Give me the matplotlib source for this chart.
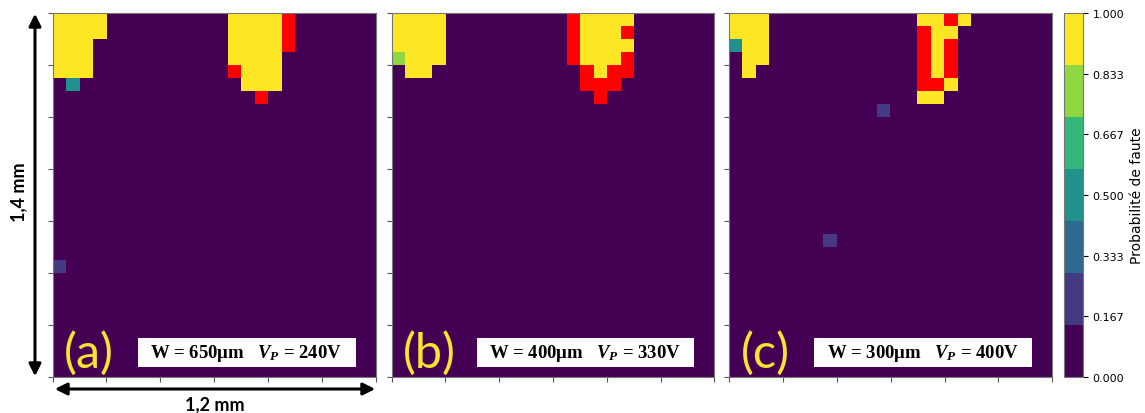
import numpy as np
import matplotlib
matplotlib.use("Agg")
import matplotlib.pyplot as plt
from matplotlib.colors import ListedColormap
from matplotlib.patches import Rectangle, FancyArrowPatch

# grid of the heat maps: 28 rows (1,4 mm) x 24 columns (1,2 mm)
n_rows, n_cols = 28, 24

# probability cells: (row, first col, last col, value)
prob_a = [(0, 0, 3, 1.0), (1, 0, 3, 1.0), (2, 0, 2, 1.0), (3, 0, 2, 1.0), (4, 0, 2, 1.0),
          (5, 1, 1, 0.5), (19, 0, 0, 1/6),
          (0, 13, 16, 1.0), (1, 13, 16, 1.0), (2, 13, 16, 1.0), (3, 13, 16, 1.0),
          (4, 14, 16, 1.0), (5, 14, 16, 1.0)]
red_a = [(0, 17, 17), (1, 17, 17), (2, 17, 17), (4, 13, 13), (6, 15, 15)]

prob_b = [(0, 0, 3, 1.0), (1, 0, 3, 1.0), (2, 0, 3, 1.0), (3, 0, 0, 5/6), (3, 1, 3, 1.0),
          (4, 1, 2, 1.0),
          (0, 14, 17, 1.0), (1, 14, 16, 1.0), (2, 14, 17, 1.0), (3, 14, 16, 1.0),
          (4, 15, 15, 1.0)]
red_b = [(0, 13, 13), (1, 13, 13), (1, 17, 17), (2, 13, 13), (3, 13, 13), (3, 17, 17),
         (4, 14, 14), (4, 16, 17), (5, 14, 16), (6, 15, 15)]

prob_c = [(0, 0, 2, 1.0), (1, 0, 2, 1.0), (2, 0, 0, 0.5), (2, 1, 2, 1.0), (3, 1, 2, 1.0),
          (4, 1, 1, 1.0), (7, 11, 11, 1/6), (17, 7, 7, 1/6),
          (0, 14, 15, 1.0), (0, 17, 17, 1.0), (1, 15, 16, 1.0), (2, 15, 15, 1.0),
          (3, 15, 15, 1.0), (4, 15, 15, 1.0), (5, 16, 16, 1.0), (6, 14, 15, 1.0)]
red_c = [(0, 16, 16), (1, 14, 14), (2, 14, 14), (2, 16, 16), (3, 14, 14), (3, 16, 16),
         (4, 14, 14), (4, 16, 16), (5, 14, 15)]

panel_tags = ["(a)", "(b)", "(c)"]
widths = ["650", "400", "300"]
voltages = ["240", "330", "400"]
cbar_ticks = [0, 1/6, 2/6, 3/6, 4/6, 5/6, 1]


def build(prob, red):
    grid = np.zeros((n_rows, n_cols))
    mask = np.zeros((n_rows, n_cols), dtype=bool)
    for r, c0, c1, v in prob:
        grid[r, c0:c1 + 1] = v
    for r, c0, c1 in red:
        mask[r, c0:c1 + 1] = True
    return grid, np.ma.masked_where(~mask, np.ones((n_rows, n_cols)))


plt.rcParams['mathtext.fontset'] = 'custom'
plt.rcParams['mathtext.rm'] = 'Liberation Serif:bold'
plt.rcParams['mathtext.bf'] = 'Liberation Serif:bold'
plt.rcParams['mathtext.it'] = 'Liberation Serif:bold:italic'
plt.rcParams['mathtext.bfit'] = 'Liberation Serif:bold:italic'

fig = plt.figure(figsize=(11.45, 4.14), dpi=100)
cmap = plt.get_cmap('viridis', 7)
red_cmap = ListedColormap(['#ff0000'])

lefts = [0.046, 0.342, 0.637]
data = [build(prob_a, red_a), build(prob_b, red_b), build(prob_c, red_c)]

for i, (grid, red) in enumerate(data):
    ax = fig.add_axes([lefts[i], 0.087, 0.282, 0.879])
    im = ax.imshow(grid, cmap=cmap, vmin=0, vmax=1, aspect='auto', interpolation='nearest')
    ax.imshow(red, cmap=red_cmap, vmin=0, vmax=1, aspect='auto', interpolation='nearest')
    ax.set_xticks(np.arange(-0.5, n_cols, 4))
    ax.set_yticks(np.arange(-0.5, n_rows, 4))
    ax.set_xticklabels([])
    ax.set_yticklabels([])
    for s in ax.spines.values():
        s.set_color('#777777')
    ax.tick_params(color='#555555')
    ax.text(0.035, 0.005, panel_tags[i], transform=ax.transAxes, color='#fde22f',
            fontsize=35, family='Lato', ha='left', va='bottom')
    ax.add_patch(Rectangle((0.263, 0.027), 0.675, 0.08, transform=ax.transAxes,
                           facecolor='white', edgecolor='none', zorder=3))
    ax.text(0.6, 0.067, 'W = %sμm   $\\mathbfit{V_P}$ = %sV' % (widths[i], voltages[i]),
            transform=ax.transAxes, ha='center', va='center', fontsize=13.5,
            family='Liberation Serif', fontweight='bold', zorder=4)

cax = fig.add_axes([0.929, 0.087, 0.0166, 0.879])
cb = fig.colorbar(im, cax=cax, ticks=cbar_ticks, format='%.3f')
cb.ax.tick_params(labelsize=8)
cb.outline.set_edgecolor('#777777')
cb.set_label('Probabilité de faute', fontsize=10)

# size arrows
fig.add_artist(FancyArrowPatch((35 / 1145, 1 - 12 / 414), (35 / 1145, 1 - 380 / 414),
               transform=fig.transFigure, arrowstyle='<|-|>', mutation_scale=18, lw=2.2, color='black'))
fig.add_artist(FancyArrowPatch((52 / 1145, 1 - 390 / 414), (378 / 1145, 1 - 390 / 414),
               transform=fig.transFigure, arrowstyle='<|-|>', mutation_scale=18, lw=2.2, color='black'))
fig.text(19 / 1145, 1 - 192 / 414, '1,4 mm', rotation=90, ha='center', va='center',
         fontsize=13, fontweight='bold', family='Lato')
fig.text(215 / 1145, 1 - 405 / 414, '1,2 mm', ha='center', va='center',
         fontsize=13, fontweight='bold', family='Lato')

fig.savefig('out.png', dpi=100)
